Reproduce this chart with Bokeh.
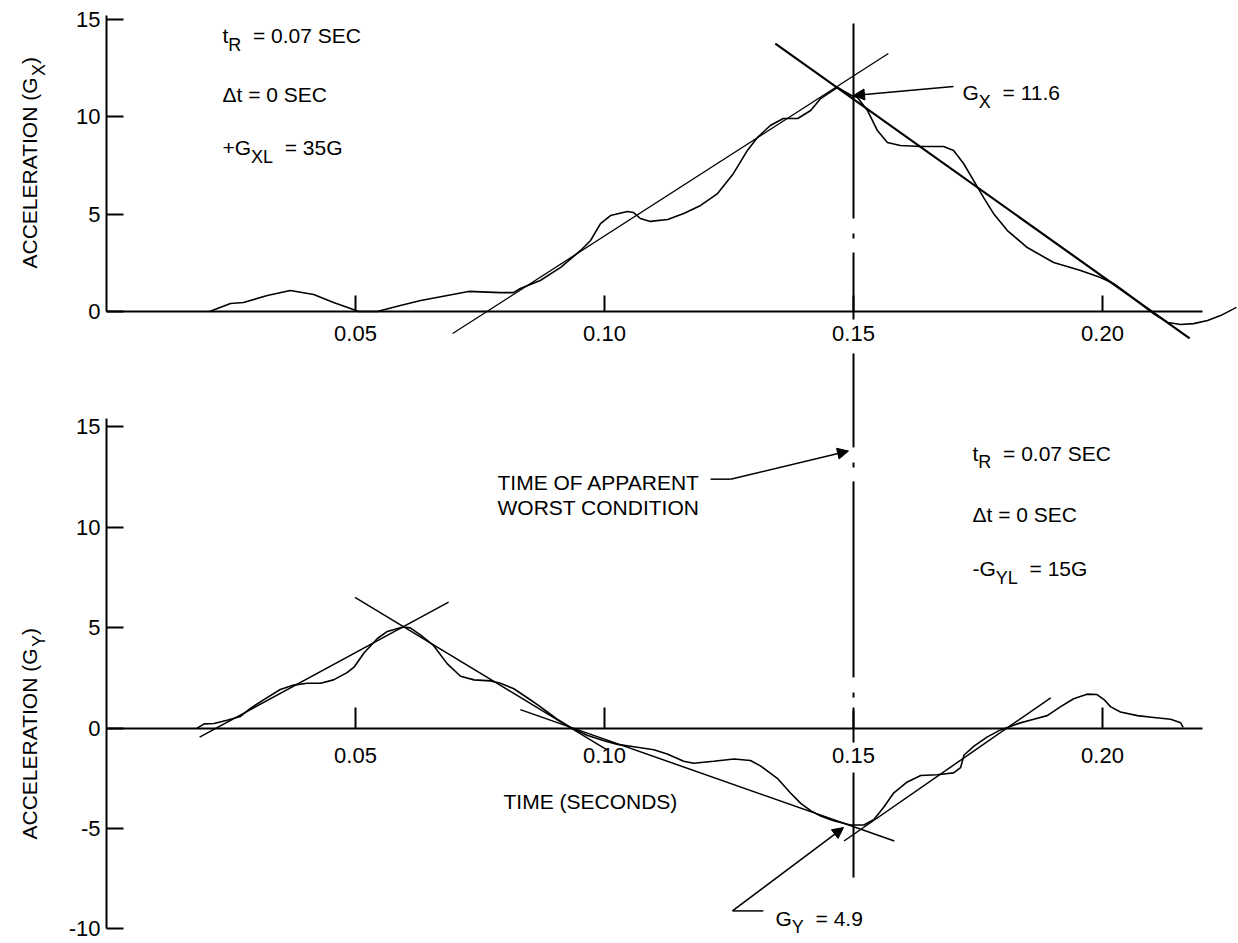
import math
from bokeh.plotting import figure
from bokeh.models import Range1d, LinearAxis, FixedTicker, NumeralTickFormatter, Arrow, NormalHead
from bokeh.core.properties import value
from bokeh.embed import file_html
from bokeh.resources import INLINE

# ---------------- data ----------------
# Longitudinal acceleration trace (top panel)
gx_t = [0.0207, 0.0249, 0.0275, 0.0323, 0.0369, 0.0416, 0.0456, 0.0490, 0.0506, 0.0544,
        0.0590, 0.0631, 0.0727, 0.0791, 0.0817, 0.0831, 0.0871, 0.0912, 0.0952, 0.0972,
        0.0992, 0.1012, 0.1046, 0.1058, 0.1072, 0.1092, 0.1127, 0.1159, 0.1193, 0.1227,
        0.1259, 0.1287, 0.1307, 0.1333, 0.1359, 0.1388, 0.1414, 0.1434, 0.1468, 0.1496,
        0.1508, 0.1528, 0.1548, 0.1568, 0.1594, 0.1635, 0.1681, 0.1701, 0.1721, 0.1741,
        0.1761, 0.1781, 0.1809, 0.1849, 0.1902, 0.1956, 0.1996, 0.2022, 0.2050, 0.2076,
        0.2102, 0.2131, 0.2157, 0.2183, 0.2211, 0.2237, 0.2269]
gx_g = [0.00, 0.41, 0.46, 0.82, 1.08, 0.87, 0.46, 0.15, 0.00, 0.00,
        0.31, 0.56, 1.03, 0.97, 0.97, 1.18, 1.59, 2.26, 3.13, 3.64,
        4.51, 4.92, 5.13, 5.08, 4.77, 4.62, 4.72, 5.03, 5.44, 6.05,
        7.08, 8.26, 8.92, 9.54, 9.90, 9.90, 10.31, 10.92, 11.49, 11.08,
        10.97, 10.31, 9.28, 8.67, 8.51, 8.46, 8.46, 8.26, 7.59, 6.72,
        5.85, 5.03, 4.15, 3.28, 2.51, 2.10, 1.74, 1.44, 0.92, 0.41,
        -0.10, -0.56, -0.67, -0.62, -0.46, -0.21, 0.21]

# Lateral acceleration trace (bottom panel)
gy_t = [0.0182, 0.0196, 0.0216, 0.0242, 0.0269, 0.0289, 0.0316, 0.0349, 0.0376, 0.0403,
        0.0430, 0.0456, 0.0483, 0.0497, 0.0517, 0.0544, 0.0564, 0.0590, 0.0597, 0.0610,
        0.0631, 0.0657, 0.0684, 0.0711, 0.0738, 0.0771, 0.0791, 0.0818, 0.0845, 0.0871,
        0.0905, 0.0932, 0.0965, 0.0999, 0.1026, 0.1059, 0.1099, 0.1126, 0.1159, 0.1179,
        0.1219, 0.1260, 0.1293, 0.1313, 0.1347, 0.1373, 0.1394, 0.1414, 0.1434, 0.1460,
        0.1494, 0.1521, 0.1541, 0.1561, 0.1581, 0.1608, 0.1635, 0.1668, 0.1701, 0.1715,
        0.1722, 0.1742, 0.1768, 0.1795, 0.1809, 0.1835, 0.1862, 0.1889, 0.1916, 0.1942,
        0.1969, 0.1989, 0.2003, 0.2016, 0.2036, 0.2070, 0.2103, 0.2137, 0.2157, 0.2162]
gy_g = [0.00, 0.21, 0.23, 0.39, 0.58, 0.98, 1.42, 1.92, 2.14, 2.23,
        2.23, 2.40, 2.76, 3.03, 3.74, 4.46, 4.81, 4.99, 5.03, 4.99,
        4.63, 4.10, 3.21, 2.58, 2.40, 2.35, 2.23, 1.96, 1.51, 1.07,
        0.44, 0.03, -0.36, -0.63, -0.81, -0.93, -1.08, -1.29, -1.65, -1.75,
        -1.65, -1.54, -1.61, -1.88, -2.50, -3.22, -3.75, -4.11, -4.38, -4.61,
        -4.82, -4.82, -4.55, -3.93, -3.22, -2.68, -2.36, -2.32, -2.23, -1.97,
        -1.34, -0.90, -0.45, -0.09, 0.03, 0.26, 0.44, 0.62, 1.07, 1.46,
        1.69, 1.67, 1.42, 1.07, 0.80, 0.62, 0.53, 0.44, 0.26, 0.03]

# straight-line fits (start, end)
gx_rise_t = [0.0695, 0.1570]; gx_rise_g = [-1.13, 13.23]
gx_fall_t = [0.1343, 0.2175]; gx_fall_g = [13.74, -1.38]
gy_fit1_t = [0.0187, 0.0687]; gy_fit1_g = [-0.45, 6.27]
gy_fit2_t = [0.0499, 0.1005]; gy_fit2_g = [6.51, -1.08]
gy_fit3_t = [0.0831, 0.1582]; gy_fit3_g = [0.92, -5.62]
gy_fit4_t = [0.1481, 0.1896]; gy_fit4_g = [-5.62, 1.51]

x_ticks = [0.05, 0.10, 0.15, 0.20]
gx_ticks = [0, 5, 10, 15]
gy_ticks = [-10, -5, 0, 5, 10, 15]

worst_t = 0.15
worst_top_runs = [(14.77, 4.77), (4.00, 3.74), (3.03, -0.41), (-2.15, -6.97)]
worst_bot_runs = [(13.22, 12.97), (12.28, 2.52), (1.77, 1.52), (0.88, -0.72), (-2.21, -7.44)]

gx_peak = 11.6
gy_peak = 4.9

# ---------------- figure ----------------
FONT = "Liberation Sans"
p = figure(width=1238, height=943,
           x_range=Range1d(-0.021285, 0.227309), y_range=Range1d(-32.41, 15.949),
           x_axis_location=None, y_axis_location=None,
           output_backend="svg", toolbar_location=None,
           min_border_left=0, min_border_right=0, min_border_top=0, min_border_bottom=0)
p.extra_y_ranges = {"bot": Range1d(-10.722, 36.217)}
p.outline_line_color = None
p.background_fill_color = "white"
p.border_fill_color = "white"
p.grid.grid_line_color = None


def style_axis(ax, tick_in, standoff):
    ax.axis_line_width = 2
    ax.axis_line_color = "black"
    ax.major_tick_line_width = 2
    ax.major_tick_line_color = "black"
    ax.major_tick_in = tick_in
    ax.major_tick_out = 0
    ax.minor_tick_line_color = None
    ax.major_label_standoff = standoff
    ax.major_label_text_font = FONT
    ax.major_label_text_font_size = "22px"
    ax.major_label_text_color = "black"


# y axes at t = 0
ya_top = LinearAxis(fixed_location=0, bounds=(0, 15.2), ticker=FixedTicker(ticks=gx_ticks))
style_axis(ya_top, 17, 6)
p.add_layout(ya_top, "left")
ya_bot = LinearAxis(fixed_location=0, y_range_name="bot", bounds=(-10, 15.4),
                    ticker=FixedTicker(ticks=gy_ticks),
                    major_label_overrides={-5: "-5", -10: "-10"})
style_axis(ya_bot, 17, 6)
p.add_layout(ya_bot, "left")

# x axes at G = 0 in each panel
xa_top = LinearAxis(fixed_location=0, bounds=(0, 0.22), ticker=FixedTicker(ticks=x_ticks),
                    formatter=NumeralTickFormatter(format="0.00"))
style_axis(xa_top, 16, 14)
p.add_layout(xa_top, "below")
xa_bot = LinearAxis(fixed_location=0, y_range_name="bot", bounds=(0, 0.22),
                    ticker=FixedTicker(ticks=x_ticks), formatter=NumeralTickFormatter(format="0.00"))
style_axis(xa_bot, 21, 20)
p.add_layout(xa_bot, "below")

# traces
p.line(gx_t, gx_g, line_color="black", line_width=1.6)
p.line(gy_t, gy_g, line_color="black", line_width=1.6, y_range_name="bot")

# fits
p.line(gx_rise_t, gx_rise_g, line_color="black", line_width=1.3)
p.line(gx_fall_t, gx_fall_g, line_color="black", line_width=2.2)
for ft, fg in [(gy_fit1_t, gy_fit1_g), (gy_fit2_t, gy_fit2_g), (gy_fit3_t, gy_fit3_g), (gy_fit4_t, gy_fit4_g)]:
    p.line(ft, fg, line_color="black", line_width=1.5, y_range_name="bot")

# time of apparent worst condition (dash-dot line)
p.segment(x0=[worst_t] * len(worst_top_runs), y0=[a for a, b in worst_top_runs],
          x1=[worst_t] * len(worst_top_runs), y1=[b for a, b in worst_top_runs],
          line_color="black", line_width=2)
p.segment(x0=[worst_t] * len(worst_bot_runs), y0=[a for a, b in worst_bot_runs],
          x1=[worst_t] * len(worst_bot_runs), y1=[b for a, b in worst_bot_runs],
          line_color="black", line_width=2, y_range_name="bot")

# ---------------- text ----------------
ARIAL = {' ': 278, '+': 584, '-': 333, '=': 584, '.': 278, '(': 333, ')': 333,
         'A': 667, 'C': 722, 'D': 722, 'E': 667, 'F': 611, 'G': 778, 'I': 278, 'L': 556,
         'M': 833, 'N': 722, 'O': 778, 'P': 667, 'R': 722, 'S': 667, 'T': 611, 'W': 944,
         'X': 667, 'Y': 667, 't': 278, '\u0394': 668}


def width(s, size):
    return sum(ARIAL.get(c, 556) for c in s) * size / 1000.0


def rich(x, y, parts, size=21, sub_size=18, drop=9, angle=0.0, yr="default"):
    adv = 0.0
    for s, sub in parts:
        fs = sub_size if sub else size
        d = drop if sub else 0
        lead = len(s) - len(s.lstrip(" "))
        adv += width(" " * lead, size)
        body = s.strip(" ")
        if angle == 0.0:
            xo, yo = adv, d
        else:
            xo, yo = d, -adv
        p.text(x=[x], y=[y], text=[body], x_offset=xo, y_offset=yo, angle=angle,
               text_font=value(FONT), text_font_size=f"{fs}px", text_color="black",
               text_align="left", text_baseline="alphabetic", y_range_name=yr)
        adv += width(body, fs)


top_notes = [[("t", 0), ("R", 1), ("  = 0.07 SEC", 0)],
             [("\u0394t = 0 SEC", 0)],
             [("+G", 0), ("XL", 1), ("  = 35G", 0)]]
bot_notes = [[("t", 0), ("R", 1), ("  = 0.07 SEC", 0)],
             [("\u0394t = 0 SEC", 0)],
             [("-G", 0), ("YL", 1), ("  = 15G", 0)]]
for parts, yy in zip(top_notes, [14.15, 11.13, 8.41]):
    rich(0.02329, yy, parts)
for parts, yy in zip(bot_notes, [13.67, 10.63, 7.94]):
    rich(0.17390, yy, parts, yr="bot")

rich(0.17189, 11.23, [("G", 0), ("X", 1), (f"  = {gx_peak}", 0)])
rich(0.13434, -9.47, [("G", 0), ("Y", 1), (f"  = {gy_peak}", 0)], yr="bot")

rich(0.07851, 12.23, [("TIME OF APPARENT", 0)], yr="bot")
rich(0.07851, 10.98, [("WORST CONDITION", 0)], yr="bot")
rich(0.07972, -3.65, [("TIME (SECONDS)", 0)], yr="bot")

rich(-0.01546, 2.205, [("ACCELERATION (G", 0), ("X", 1), (")", 0)], angle=math.pi / 2)
rich(-0.01546, -5.545, [("ACCELERATION (G", 0), ("Y", 1), (")", 0)], angle=math.pi / 2, yr="bot")

# ---------------- leaders ----------------
head = dict(size=11, fill_color="black", line_color="black")
p.add_layout(Arrow(x_start=0.17008, y_start=11.54, x_end=0.1500, y_end=11.08,
                   line_width=1.5, line_color="black", end=NormalHead(**head)))
p.line([0.1213, 0.1253], [12.39, 12.39], line_color="black", line_width=1.5, y_range_name="bot")
p.add_layout(Arrow(x_start=0.1253, y_start=12.39, x_end=0.1490, y_end=13.79,
                   line_width=1.5, line_color="black", end=NormalHead(**head), y_range_name="bot"))
p.line([0.1257, 0.1319], [-9.10, -9.10], line_color="black", line_width=1.5, y_range_name="bot")
p.add_layout(Arrow(x_start=0.1257, y_start=-9.10, x_end=0.1480, y_end=-4.95,
                   line_width=1.5, line_color="black", end=NormalHead(**head), y_range_name="bot"))

open("out.html", "w").write(file_html(p, INLINE))
